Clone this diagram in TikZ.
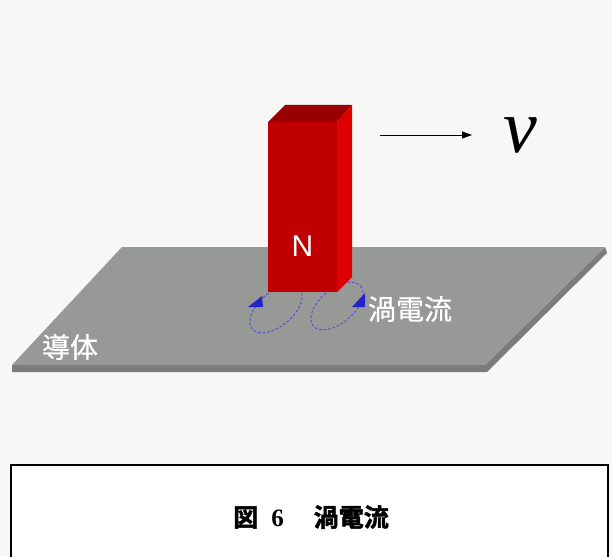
\documentclass[tikz,border=0pt]{standalone}
\usepackage{fontspec}
\setmainfont{Liberation Serif}
\newfontfamily\jpfont[FakeBold=0.6]{Noto Sans CJK JP}
\newfontfamily\jpboldfont[FakeBold=2]{Noto Sans CJK JP Bold}
\newfontfamily\labelsans{Liberation Sans}
\usetikzlibrary{arrows.meta}
\definecolor{pagebg}{HTML}{F7F8F6}
\definecolor{platetop}{HTML}{979996}
\definecolor{plateedge}{HTML}{7B7D7A}
\definecolor{magfront}{HTML}{C00000}
\definecolor{magtop}{HTML}{990000}
\definecolor{magside}{HTML}{DD0000}
\definecolor{eddyblue}{HTML}{4A4AD8}
\definecolor{tipblue}{HTML}{2424C8}
\tikzset{
  eddyloop/.style={draw=eddyblue, line width=0.9pt, dash pattern=on 2.5pt off 2pt},
  eddytip/.style={fill=tipblue},
  whitelabel/.style={text=white, inner sep=0pt, font=\jpfont\fontsize{28}{28}\selectfont},
  motion/.style={line width=0.9pt, -{Triangle[length=10pt,width=7pt]}},
}
\begin{document}
\begin{tikzpicture}[x=1pt,y=-1pt]
\useasboundingbox (0,0) rectangle (612,556);
\fill[pagebg] (0,0) rectangle (612,556);

% caption frame
\fill[white] (11,465) rectangle (608,556);
\draw[line width=2pt] (11,557) -- (11,465) -- (608,465) -- (608,557);
\node[inner sep=0pt, font=\jpboldfont\fontsize{25}{25}\selectfont] (caption) at (311,517)
  {図\hspace{13pt}{\bfseries\rmfamily 6}\hspace{30pt}渦電流};

% conducting plate: thickness, then top face
\fill[plateedge] (12,365) -- (485,365) -- (605,247) -- (607,253) -- (487,372) -- (12,372) -- cycle;
\fill[platetop] (122,247) -- (605,247) -- (485,365) -- (12,365) -- cycle;

% eddy current loops under the magnet
\draw[eddyloop] (276,309) ellipse [x radius=31, y radius=17, rotate=40];
\draw[eddyloop] (337,306) ellipse [x radius=31, y radius=17, rotate=40];
\fill[eddytip] (248,307) -- (263,307) -- (262,296) -- cycle;
\fill[eddytip] (352,307) -- (365,307) -- (365,293) -- cycle;

% bar magnet
\fill[magfront] (268,122) rectangle (337,292);
\fill[magtop] (268,122) -- (285,105) -- (352,105) -- (337,122) -- cycle;
\fill[magside] (337,122) -- (352,105) -- (352,277) -- (337,292) -- cycle;
\node[text=white, inner sep=0pt, font=\labelsans\fontsize{30}{30}\selectfont] (pole) at (302.5,246.5) {N};

% labels on the plate
\node[whitelabel] (eddy) at (410,309) {渦電流};
\node[whitelabel] (conductor) at (70,347) {導体};

% direction of motion
\coordinate (mstart) at (380,135);
\coordinate (mend) at (472,135);
\draw[motion] (mstart) -- (mend);
\node[anchor=base west, inner sep=0pt, font=\itshape\fontsize{76}{76}\selectfont] (speed) at (503,153) {v};
\end{tikzpicture}
\end{document}
